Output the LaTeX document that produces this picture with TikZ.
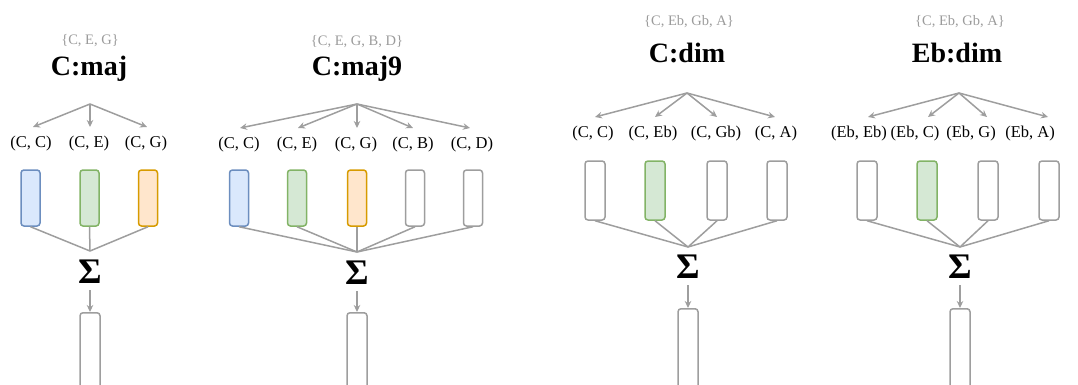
\documentclass[tikz,border=0pt]{standalone}
\usepackage{fontspec}
\setmainfont{Liberation Serif}
\usetikzlibrary{arrows.meta}
\definecolor{linegray}{RGB}{158,158,158}
\definecolor{settext}{RGB}{155,155,155}
\definecolor{blueF}{HTML}{DAE8FC}\definecolor{blueD}{HTML}{6C8EBF}
\definecolor{greenF}{HTML}{D5E8D4}\definecolor{greenD}{HTML}{82B366}
\definecolor{orangeF}{HTML}{FFE6CC}\definecolor{orangeD}{HTML}{D79B00}
\tikzset{
  settxt/.style={anchor=base,inner sep=0pt,text=settext,font=\fontsize{14.5}{16}\selectfont},
  chordtitle/.style={anchor=base,inner sep=0pt,font=\fontsize{28}{30}\selectfont\bfseries},
  pairlbl/.style={anchor=base,inner sep=0pt,font=\fontsize{16.5}{18}\selectfont},
  sigma/.style={anchor=base,inner sep=0pt,font=\fontsize{36}{38}\selectfont\bfseries},
  vec/.style={draw=linegray,fill=white,line width=1.5pt,rounded corners=3pt,
    minimum width=19pt,inner sep=0pt},
  vecA/.style={vec,minimum height=56pt},
  vecB/.style={vec,minimum height=59pt},
  outvec/.style={vec,minimum width=20pt,minimum height=100pt,anchor=north},
  blue/.style={draw=blueD,fill=blueF},
  green/.style={draw=greenD,fill=greenF},
  orange/.style={draw=orangeD,fill=orangeF},
  link/.style={draw=linegray,line width=1.5pt},
  arr/.style={link,-{Stealth[length=7pt,width=6.5pt]}},
}
\begin{document}
\begin{tikzpicture}[x=1pt,y=-1pt]
\useasboundingbox (0,0) rectangle (1078,385);
\clip (0,0) rectangle (1078,385);

% ---------------- C:maj ----------------
\node[settxt] (set1) at (90,45) {\{C, E, G\}};
\node[chordtitle] (t1) at (89,75.5) {C:maj};
\coordinate (ap1) at (90,104);
\coordinate (e11) at (33,127);
\coordinate (e12) at (90,127);
\coordinate (e13) at (147,127);
\node[pairlbl] (l11) at (31,147.5) {(C, C)};
\node[pairlbl] (l12) at (89,147.5) {(C, E)};
\node[pairlbl] (l13) at (146,147.5) {(C, G)};
\foreach \e in {e11,e12,e13} \draw[arr] (ap1) -- (\e);
\node[vecA,blue] (b11) at (30.5,198) {};
\node[vecA,green] (b12) at (89.5,198) {};
\node[vecA,orange] (b13) at (148,198) {};
\coordinate (j1) at (90,251);
\foreach \b in {b11,b12,b13} \draw[link] (\b.south) -- (j1);
\node[sigma] (s1) at (90,283) {Σ};
\node[outvec] (o1) at (90,312) {};
\draw[arr] ([yshift=-7pt]s1.south) -- (o1.north);

% ---------------- C:maj9 ----------------
\node[settxt] (set2) at (357,46) {\{C, E, G, B, D\}};
\node[chordtitle] (t2) at (357,76) {C:maj9};
\coordinate (ap2) at (357,104);
\coordinate (e21) at (240,128);
\coordinate (e22) at (298,128);
\coordinate (e23) at (357,128);
\coordinate (e24) at (413,128);
\coordinate (e25) at (470,128);
\node[pairlbl] (l21) at (239,148) {(C, C)};
\node[pairlbl] (l22) at (297,148) {(C, E)};
\node[pairlbl] (l23) at (356,148) {(C, G)};
\node[pairlbl] (l24) at (413,148) {(C, B)};
\node[pairlbl] (l25) at (472,148) {(C, D)};
\foreach \e in {e21,e22,e23,e24,e25} \draw[arr] (ap2) -- (\e);
\node[vecA,blue] (b21) at (239,198) {};
\node[vecA,green] (b22) at (297,198) {};
\node[vecA,orange] (b23) at (357,198) {};
\node[vecA] (b24) at (415,198) {};
\node[vecA] (b25) at (473,198) {};
\coordinate (j2) at (357,252);
\foreach \b in {b21,b22,b23,b24,b25} \draw[link] (\b.south) -- (j2);
\node[sigma] (s2) at (357,284) {Σ};
\node[outvec] (o2) at (357,312) {};
\draw[arr] ([yshift=-7pt]s2.south) -- (o2.north);

% ---------------- C:dim ----------------
\node[settxt] (set3) at (689,26) {\{C, Eb, Gb, A\}};
\node[chordtitle] (t3) at (687,63) {C:dim};
\coordinate (ap3) at (687,93);
\coordinate (e31) at (595,117);
\coordinate (e32) at (655,117);
\coordinate (e33) at (717,117);
\coordinate (e34) at (775,117);
\node[pairlbl] (l31) at (593,137) {(C, C)};
\node[pairlbl] (l32) at (653,137) {(C, Eb)};
\node[pairlbl] (l33) at (716,137) {(C, Gb)};
\node[pairlbl] (l34) at (776,137) {(C, A)};
\foreach \e in {e31,e32,e33,e34} \draw[arr] (ap3) -- (\e);
\node[vecB,minimum width=20pt] (b31) at (595,190.5) {};
\node[vecB,minimum width=20pt,green] (b32) at (655,190.5) {};
\node[vecB,minimum width=20pt] (b33) at (717,190.5) {};
\node[vecB,minimum width=20pt] (b34) at (777,190.5) {};
\coordinate (j3) at (688,247);
\foreach \b in {b31,b32,b33,b34} \draw[link] (\b.south) -- (j3);
\node[sigma] (s3) at (688,278) {Σ};
\node[outvec] (o3) at (688,308) {};
\draw[arr] ([yshift=-7pt]s3.south) -- (o3.north);

% ---------------- Eb:dim ----------------
\node[settxt] (set4) at (960,26) {\{C, Eb, Gb, A\}};
\node[chordtitle] (t4) at (957,63) {Eb:dim};
\coordinate (ap4) at (959,93);
\coordinate (e41) at (868,117);
\coordinate (e42) at (928,117);
\coordinate (e43) at (987,117);
\coordinate (e44) at (1048,117);
\node[pairlbl] (l41) at (859,137) {(Eb, Eb)};
\node[pairlbl] (l42) at (915,137) {(Eb, C)};
\node[pairlbl] (l43) at (971,137) {(Eb, G)};
\node[pairlbl] (l44) at (1030,137) {(Eb, A)};
\foreach \e in {e41,e42,e43,e44} \draw[arr] (ap4) -- (\e);
\node[vecB,minimum width=20pt] (b41) at (867,190.5) {};
\node[vecB,minimum width=20pt,green] (b42) at (927,190.5) {};
\node[vecB,minimum width=20pt] (b43) at (988,190.5) {};
\node[vecB,minimum width=20pt] (b44) at (1049,190.5) {};
\coordinate (j4) at (960,247);
\foreach \b in {b41,b42,b43,b44} \draw[link] (\b.south) -- (j4);
\node[sigma] (s4) at (960,278) {Σ};
\node[outvec] (o4) at (960,308) {};
\draw[arr] ([yshift=-7pt]s4.south) -- (o4.north);
\end{tikzpicture}
\end{document}
